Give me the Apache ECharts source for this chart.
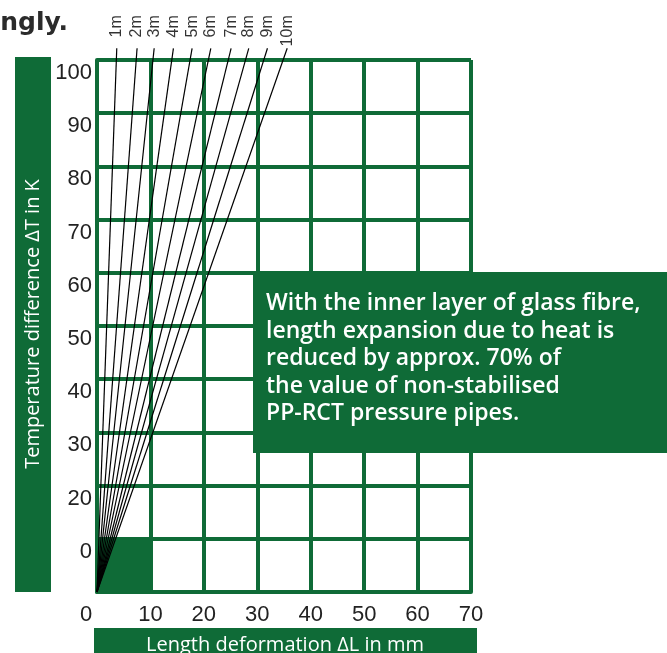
<!DOCTYPE html>
<html>
<head>
<meta charset="utf-8">
<script src="https://cdn.jsdelivr.net/npm/echarts@6/dist/echarts.min.js"></script>
<style>
html, body { margin: 0; padding: 0; background: #fff; }
#chart { width: 667px; height: 653px; }
</style>
</head>
<body>
<div id="chart"></div>
<script>
// 管长
const pipeLengths = ['1m', '2m', '3m', '4m', '5m', '6m', '7m', '8m', '9m', '10m'];
// 各条线顶端的长度变化 ΔL (mm)
const endDeformation = [3.7, 7.5, 10.7, 14.3, 17.8, 21.3, 25.1, 28.4, 31.9, 35.6];
// 各条线顶端的温差 ΔT (K)
const endTemperature = [102.2, 102.2, 102.2, 102.2, 102.2, 102.2, 102.2, 102.2, 102.2, 102.2];
// 坐标轴刻度
const xTickValues = [0, 10, 20, 30, 40, 50, 60, 70];
const yTickValues = [10, 20, 30, 40, 50, 60, 70, 80, 90, 100];
const yTickLabels = ['0', '20', '30', '40', '50', '60', '70', '80', '90', '100'];

const green = '#0f6b37';
const labelFont = "'Liberation Sans', Arial, sans-serif";

const chart = echarts.init(document.getElementById('chart'), null, { renderer: 'canvas' });

// 每条管长一条线，从原点出发
const lineSeries = pipeLengths.map(function (name, i) {
    return {
        name: name,
        type: 'line',
        symbol: 'none',
        clip: false,
        silent: true,
        z: 3,
        lineStyle: { color: '#000', width: 1.2 },
        data: [[0, 0], [endDeformation[i], endTemperature[i]]]
    };
});

// 左下角的绿色格子
lineSeries[0].markArea = {
    silent: true,
    itemStyle: { color: green },
    data: [[{ coord: [0, 0] }, { coord: [10, 10] }]]
};

// 线顶端的文字
const labelSeries = {
    type: 'scatter',
    symbolSize: 0,
    clip: false,
    silent: true,
    z: 4,
    data: pipeLengths.map(function (name, i) {
        return { name: name, value: [endDeformation[i], endTemperature[i]] };
    }),
    label: {
        show: true,
        position: 'inside',
        formatter: '{b}',
        rotate: 90,
        align: 'right',
        verticalAlign: 'middle',
        offset: [33, 0],
        color: '#000',
        fontSize: 16,
        fontFamily: labelFont
    }
};

const option = {
    animation: false,
    backgroundColor: '#fff',
    grid: { left: 97, right: 196, top: 60, bottom: 61 },
    xAxis: {
        type: 'value',
        min: 0,
        max: 70,
        interval: 10,
        axisLine: { show: true, lineStyle: { color: green, width: 4 } },
        axisTick: { show: false },
        splitLine: { show: true, lineStyle: { color: green, width: 4 } },
        axisLabel: {
            margin: 12,
            color: '#222',
            fontSize: 22,
            fontFamily: labelFont,
            formatter: function (v) {
                if (xTickValues.indexOf(v) < 0) return '';
                return v === 0 ? '{z|0}' : String(v);
            },
            rich: {
                z: { padding: [0, 22, 0, 0], color: '#222', fontSize: 22, fontFamily: labelFont }
            }
        }
    },
    yAxis: {
        type: 'value',
        min: 0,
        max: 100,
        interval: 10,
        axisLine: { show: true, lineStyle: { color: green, width: 4 } },
        axisTick: { show: false },
        splitLine: { show: true, lineStyle: { color: green, width: 4 } },
        axisLabel: {
            margin: 5,
            color: '#222',
            fontSize: 22,
            fontFamily: labelFont,
            verticalAlign: 'top',
            padding: [2, 0, 0, 0],
            formatter: function (v) {
                const k = yTickValues.indexOf(v);
                return k < 0 ? '' : yTickLabels[k];
            }
        }
    },
    graphic: [
        {
            type: 'text',
            x: 68,
            y: 23,
            style: {
                text: 'ngly.',
                align: 'right',
                verticalAlign: 'middle',
                fill: '#2b2b2b',
                font: "bold 25px 'DejaVu Sans', sans-serif"
            }
        },
        {
            type: 'rect',
            shape: { x: 15, y: 57, width: 36, height: 535 },
            style: { fill: green }
        },
        {
            type: 'text',
            x: 33,
            y: 324,
            rotation: Math.PI / 2,
            style: {
                text: 'Temperature difference ΔT in K',
                align: 'center',
                verticalAlign: 'middle',
                fill: '#fff',
                font: "20px 'Open Sans', sans-serif"
            }
        },
        {
            type: 'rect',
            shape: { x: 94, y: 628, width: 383, height: 30 },
            style: { fill: green }
        },
        {
            type: 'text',
            x: 285,
            y: 645,
            style: {
                text: 'Length deformation ΔL in mm',
                align: 'center',
                verticalAlign: 'middle',
                fill: '#fff',
                font: "20px 'Open Sans', sans-serif"
            }
        },
        {
            type: 'rect',
            z: 10,
            shape: { x: 253, y: 272, width: 420, height: 181 },
            style: { fill: green }
        },
        {
            type: 'text',
            z: 11,
            x: 266,
            y: 290,
            style: {
                text: 'With the inner layer of glass fibre,\nlength expansion due to heat is\nreduced by approx. 70% of\nthe value of non-stabilised\nPP-RCT pressure pipes.',
                verticalAlign: 'top',
                lineHeight: 27.5,
                fill: '#fff',
                font: "600 23px 'Open Sans', sans-serif"
            }
        }
    ],
    series: lineSeries.concat([labelSeries])
};

chart.setOption(option);
</script>
</body>
</html>
